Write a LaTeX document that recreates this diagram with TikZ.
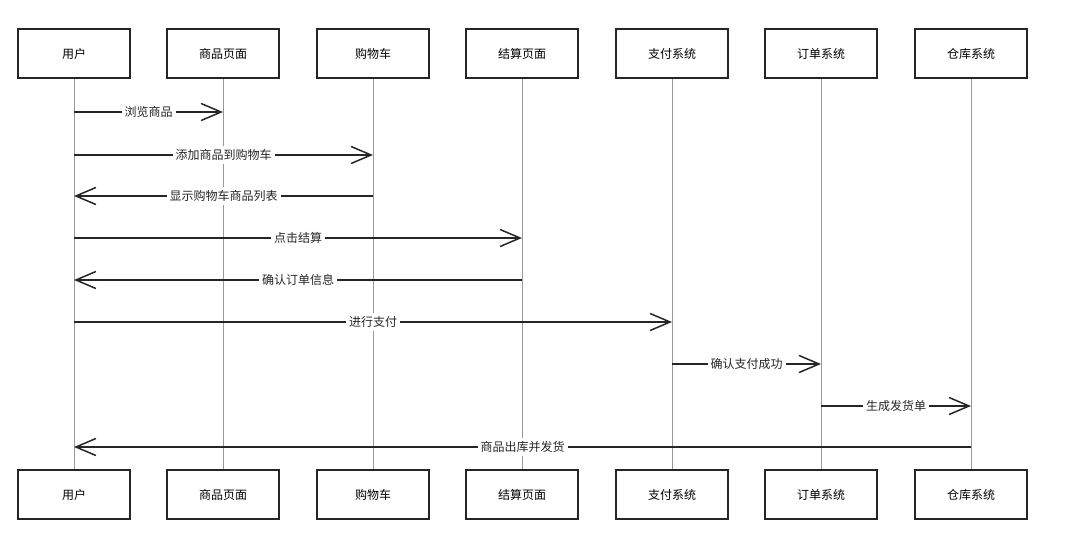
\documentclass[tikz,border=0pt]{standalone}
\usepackage{fontspec}
\setmainfont{Noto Sans CJK SC}
\usetikzlibrary{arrows.meta}
\begin{document}
\begin{tikzpicture}[x=1pt,y=-1pt,
  actor/.style={draw=black!85,line width=1.2pt,minimum width=112pt,minimum height=49pt,inner sep=0pt,font=\fontsize{12}{14}\selectfont,fill=white},
  life/.style={draw=black!40,line width=0.8pt},
  msg/.style={draw=black!85,line width=1.5pt,-{Straight Barb[length=20pt,width=17pt,line width=1.5pt]}},
  lbl/.style={fill=white,inner sep=3pt,font=\fontsize{12}{14}\selectfont,text=black!85}]
\useasboundingbox (0,0) rectangle (1080,536);
\foreach \n/\x/\t in {u/74/用户,p/223/商品页面,c/373/购物车,s/522/结算页面,z/672/支付系统,o/821/订单系统,w/971/仓库系统}{
  \node[actor] (\n t) at (\x,53.5) {\t};
  \node[actor] (\n b) at (\x,494.5) {\t};
  \draw[life] (\n t.south) -- (\n b.north);
}
\foreach \a/\b/\y/\t in {u/p/112/浏览商品,u/c/155/添加商品到购物车,c/u/196/显示购物车商品列表,u/s/238/点击结算,s/u/280/确认订单信息,u/z/322/进行支付,z/o/364/确认支付成功,o/w/406/生成发货单,w/u/447/商品出库并发货}{
  \coordinate (A) at (\a t.south |- 0,\y);
  \coordinate (B) at (\b t.south |- 0,\y);
  \draw[msg] (A) -- node[lbl] {\t} (B);
}
\end{tikzpicture}
\end{document}
